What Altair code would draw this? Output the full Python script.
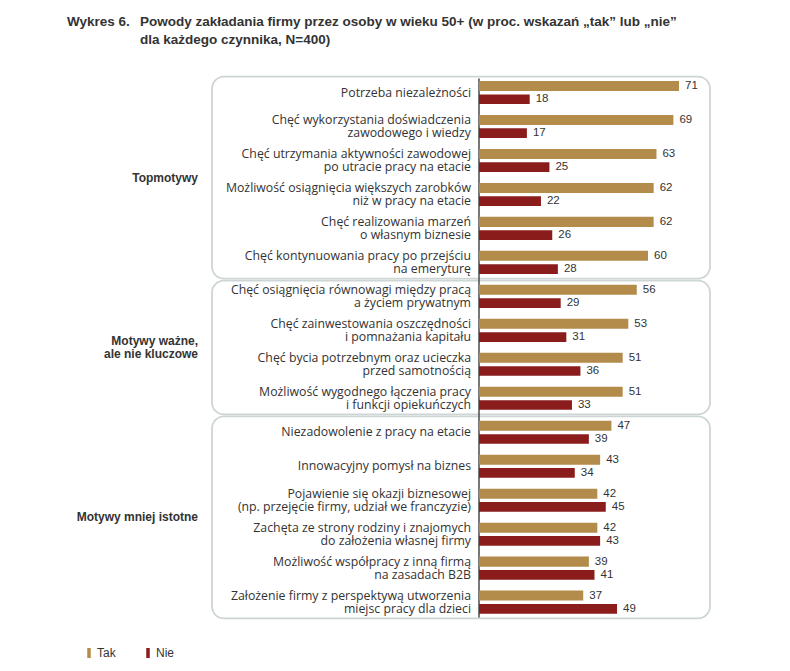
import altair as alt
import pandas as pd

# ---- data ----
items = [
    "Potrzeba niezależności",
    "Chęć wykorzystania doświadczenia\nzawodowego i wiedzy",
    "Chęć utrzymania aktywności zawodowej\npo utracie pracy na etacie",
    "Możliwość osiągnięcia większych zarobków\nniż w pracy na etacie",
    "Chęć realizowania marzeń\no własnym biznesie",
    "Chęć kontynuowania pracy po przejściu\nna emeryturę",
    "Chęć osiągnięcia równowagi między pracą\na życiem prywatnym",
    "Chęć zainwestowania oszczędności\ni pomnażania kapitału",
    "Chęć bycia potrzebnym oraz ucieczka\nprzed samotnością",
    "Możliwość wygodnego łączenia pracy\ni funkcji opiekuńczych",
    "Niezadowolenie z pracy na etacie",
    "Innowacyjny pomysł na biznes",
    "Pojawienie się okazji biznesowej\n(np. przejęcie firmy, udział we franczyzie)",
    "Zachęta ze strony rodziny i znajomych\ndo założenia własnej firmy",
    "Możliwość współpracy z inną firmą\nna zasadach B2B",
    "Założenie firmy z perspektywą utworzenia\nmiejsc pracy dla dzieci",
]
tak = [71, 69, 63, 62, 62, 60, 56, 53, 51, 51, 47, 43, 42, 42, 39, 37]
nie = [18, 17, 25, 22, 26, 28, 29, 31, 36, 33, 39, 34, 45, 43, 41, 49]
groups = ["Topmotywy", "Motywy ważne,\nale nie kluczowe", "Motywy mniej istotne"]
group_sizes = [6, 4, 6]
series = ["Tak", "Nie"]
colors = ["#B38B4B", "#8B1C1C"]
title_lead = "Wykres 6."
title_lines = "Powody zakładania firmy przez osoby w wieku 50+ (w proc. wskazań „tak” lub „nie”\ndla każdego czynnika, N=400)"

# ---- scales ----
XMIN, XMAX = -94.78, 82.0
YMIN, YMAX = -0.55, 15.55
TXT = "#333333"
W, H = 498, 547
LINE_SHIFT = 0.2  # half a text line, in row units

# ---- tables ----
rows = []
for i, (t, n) in enumerate(zip(tak, nie)):
    rows.append({"idx": i, "series": "Tak", "value": t, "zero": 0,
                 "y0": i - 0.345, "y1": i - 0.05, "pos": i - 0.2})
    rows.append({"idx": i, "series": "Nie", "value": n, "zero": 0,
                 "y0": i + 0.05, "y1": i + 0.335, "pos": i + 0.19})
bars = pd.DataFrame(rows)
labels = pd.DataFrame({
    "item": items,
    "zero": 0,
    "ly": [i - LINE_SHIFT * lab.count("\n") for i, lab in enumerate(items)],
})

grows = []
start = 0
for g, s in zip(groups, group_sizes):
    first, last = start, start + s - 1
    mid = (first + last) / 2
    grows.append({"group": g, "top": first - 0.47, "bottom": last + 0.47,
                  "gy": mid - LINE_SHIFT * g.count("\n"), "xl": XMIN, "xr": XMAX})
    start += s
gdf = pd.DataFrame(grows)
axis_df = pd.DataFrame({"zero": [0], "ya": [-0.42], "yb": [len(items) - 1 + 0.45]})
tdf = pd.DataFrame({"lead": [title_lead], "rest": [title_lines], "xl": [XMIN], "yt": [YMIN]})

xs = alt.Scale(domain=[XMIN, XMAX], nice=False, zero=False)
ys = alt.Scale(domain=[YMIN, YMAX], nice=False, zero=False, reverse=True)


def X(f):
    return alt.X(f, scale=xs, axis=None)


def Y(f):
    return alt.Y(f, scale=ys, axis=None)


boxes = alt.Chart(gdf).mark_rect(
    cornerRadius=12, fill="white", stroke="#CDD5D5", strokeWidth=1.8
).encode(x=X("xl:Q"), x2="xr:Q", y=Y("top:Q"), y2="bottom:Q")

glabels = alt.Chart(gdf).mark_text(
    align="right", baseline="middle", fontWeight="bold", font="Liberation Sans",
    fontSize=12, color=TXT, lineBreak="\n", lineHeight=13.5, dx=-14
).encode(x=X("xl:Q"), y=Y("gy:Q"), text="group:N")

axis_rule = alt.Chart(axis_df).mark_rule(color="#4A4A4A", strokeWidth=1.5).encode(
    x=X("zero:Q"), y=Y("ya:Q"), y2="yb:Q"
)

barlayer = alt.Chart(bars).mark_rect().encode(
    x=X("zero:Q"), x2="value:Q", y=Y("y0:Q"), y2="y1:Q",
    color=alt.Color(
        "series:N",
        scale=alt.Scale(domain=series, range=colors),
        legend=alt.Legend(
            title=None, orient="none", direction="horizontal",
            legendX=-129, legendY=573,
            symbolType="M-0.35,-1H0.35V1H-0.35Z", symbolSize=100,
            symbolStrokeWidth=0, labelFont="Liberation Sans", labelFontSize=12,
            labelColor=TXT, columnPadding=26, labelOffset=2,
        ),
    ),
)

values = alt.Chart(bars).mark_text(
    align="left", baseline="middle", dx=6, font="Liberation Sans", fontSize=11.5, color=TXT
).encode(x=X("value:Q"), y=Y("pos:Q"), text="value:Q")

itemlabels = alt.Chart(labels).mark_text(
    align="right", baseline="middle", dx=-8, font="Open Sans", fontSize=12.3,
    color=TXT, lineBreak="\n", lineHeight=13.5
).encode(x=X("zero:Q"), y=Y("ly:Q"), text="item:N")

t1 = alt.Chart(tdf).mark_text(
    align="left", baseline="top", font="Liberation Sans", fontWeight="bold",
    fontSize=13.5, color=TXT, dx=-145, dy=-59
).encode(x=X("xl:Q"), y=Y("yt:Q"), text="lead:N")

t2 = alt.Chart(tdf).mark_text(
    align="left", baseline="top", font="Liberation Sans", fontWeight="bold",
    fontSize=13.5, color=TXT, lineBreak="\n", lineHeight=18, dx=-72, dy=-59
).encode(x=X("xl:Q"), y=Y("yt:Q"), text="rest:N")

chart = alt.layer(boxes, glabels, axis_rule, barlayer, values, itemlabels, t1, t2).properties(
    width=W, height=H,
    background="white",
    autosize=alt.AutoSizeParams(type="none"),
    padding={"left": 204, "top": 66, "right": 60, "bottom": 50},
).configure_view(stroke=None)

chart.save("out.html", embed_options={"renderer": "svg", "actions": False})
